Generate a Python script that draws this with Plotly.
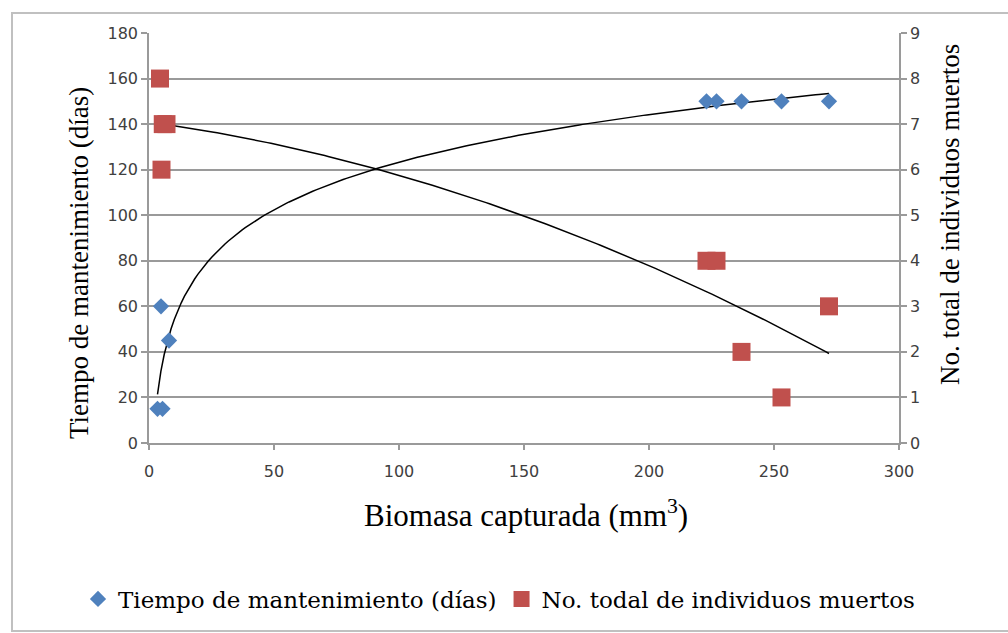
import numpy as np
import plotly.graph_objects as go

# ---- data ----
tiempo_x = [3.4, 5.4, 4.8, 8.0, 223, 227, 237, 253, 272]
tiempo_y = [15, 15, 60, 45, 150, 150, 150, 150, 150]
muertos_x = [4.4, 5.5, 7.0, 5.0, 223, 227, 237, 253, 272]
muertos_y = [8, 7, 7, 6, 4, 4, 2, 1, 3]

x_ticks = [0, 50, 100, 150, 200, 250, 300]
y_ticks = [0, 20, 40, 60, 80, 100, 120, 140, 160, 180]
y2_ticks = [0, 1, 2, 3, 4, 5, 6, 7, 8, 9]

name_tiempo = "Tiempo de mantenimiento (días)"
name_muertos = "No. todal de individuos muertos"

# ---- trend lines (log fit and 2nd order polynomial fit, as in Excel) ----
tx = np.array(tiempo_x, float)
ty = np.array(tiempo_y, float)
a, b = np.polyfit(np.log(tx), ty, 1)
xs_t = np.linspace(tx.min(), tx.max(), 200)
ys_t = a * np.log(xs_t) + b

mx = np.array(muertos_x, float)
my = np.array(muertos_y, float)
p = np.polyfit(mx, my, 2)
xs_m = np.linspace(mx.min(), mx.max(), 200)
ys_m = np.polyval(p, xs_m)

BLUE = "#4F81BD"
RED = "#C0504D"
GRID = "#9a9a9a"
SERIF = "Liberation Serif"
SERIF2 = "DejaVu Serif"
SANS = "DejaVu Sans"
TICKC = "#404040"

fig = go.Figure()
fig.add_trace(go.Scatter(x=xs_t, y=ys_t, mode="lines", line=dict(color="black", width=1.5),
                         showlegend=False, hoverinfo="skip"))
fig.add_trace(go.Scatter(x=xs_m, y=ys_m, mode="lines", line=dict(color="black", width=1.5),
                         showlegend=False, hoverinfo="skip", yaxis="y2"))
fig.add_trace(go.Scatter(x=tiempo_x, y=tiempo_y, mode="markers", name=name_tiempo,
                         marker=dict(symbol="diamond", size=12.5, color=BLUE)))
fig.add_trace(go.Scatter(x=muertos_x, y=muertos_y, mode="markers", name=name_muertos,
                         marker=dict(symbol="square", size=18, color=RED), yaxis="y2"))

L, R, T, B = 149, 899, 33, 443
W, H = 1008, 633

tickfont = dict(family=SANS, size=16, color=TICKC)

fig.update_layout(
    width=W, height=H,
    margin=dict(l=L, r=W - R, t=T, b=H - B),
    plot_bgcolor="white", paper_bgcolor="white",
    showlegend=True,
    legend=dict(orientation="h", x=(78 - L) / (R - L), y=-(599 - B) / (B - T),
                xanchor="left", yanchor="middle",
                font=dict(family=SERIF2, size=23, color="black"),
                itemwidth=30, tracegroupgap=0),
    xaxis=dict(range=[0, 300], tickvals=x_ticks, showgrid=False, zeroline=False,
               showline=True, linecolor=GRID, linewidth=1.5,
               ticks="outside", ticklen=5, tickcolor=GRID, tickwidth=1.5,
               ticklabelstandoff=8, tickfont=tickfont),
    yaxis=dict(range=[0, 180], tickvals=y_ticks, showgrid=True, gridcolor=GRID, gridwidth=1.5,
               zeroline=False, showline=True, linecolor=GRID, linewidth=1.5,
               ticks="outside", ticklen=6, tickcolor=GRID, tickwidth=1.5,
               tickfont=tickfont),
    yaxis2=dict(range=[0, 9], tickvals=y2_ticks, overlaying="y", side="right",
                showgrid=False, zeroline=False, showline=True, linecolor=GRID, linewidth=1.5,
                ticks="outside", ticklen=6, tickcolor=GRID, tickwidth=1.5,
                tickfont=tickfont),
)

def px_x(px):
    return (px - L) / (R - L)

def px_y(py):
    return (B - py) / (B - T)

fig.add_annotation(text="Biomasa capturada (mm<sup>3</sup>)", xref="paper", yref="paper",
                   x=px_x(526), y=px_y(535), showarrow=False,
                   font=dict(family=SERIF, size=31, color="black"))
fig.add_annotation(text="Tiempo de mantenimiento (días)", xref="paper", yref="paper",
                   x=px_x(62), y=px_y(263), showarrow=False, textangle=-90,
                   font=dict(family=SERIF, size=27, color="black"))
fig.add_annotation(text="No. total de individuos muertos", xref="paper", yref="paper",
                   x=px_x(967), y=px_y(215), showarrow=False, textangle=-90,
                   font=dict(family=SERIF, size=27, color="black"))

fig.add_shape(type="rect", xref="paper", yref="paper",
              x0=px_x(12), x1=px_x(1012), y0=px_y(631), y1=px_y(13),
              line=dict(color="#c0c0c0", width=2), layer="below")

fig.write_html("out.html", config={"displayModeBar": False},
               post_script="document.body.style.margin='0';document.body.style.overflow='hidden';")
